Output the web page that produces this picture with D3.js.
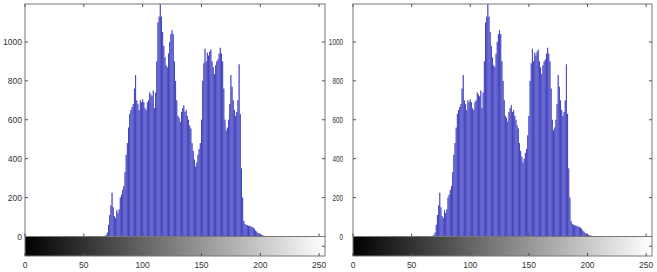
<!DOCTYPE html>
<html><head><meta charset="utf-8">
<script src="https://cdn.jsdelivr.net/npm/d3@7"></script>
<style>body{margin:0;background:#fff}svg{display:block}</style>
</head><body>
<script>
// ---- data ----
const firstBin = 68;
const countsLeft = [3,8,20,60,110,160,225,150,105,95,135,120,140,200,215,240,260,330,420,480,560,630,650,665,680,760,830,700,680,650,700,690,705,690,660,650,690,700,740,730,720,750,660,740,900,1100,1130,1195,1130,1050,980,920,880,870,940,1000,1040,1060,1040,900,800,700,620,610,590,640,660,675,640,650,620,600,570,555,480,440,395,360,380,420,450,480,600,800,890,965,900,945,930,950,960,900,870,835,880,900,910,940,970,940,900,760,600,545,560,600,680,830,770,700,650,620,640,700,885,630,350,200,80,65,60,58,55,55,50,50,45,40,30,25,18,15,10,8,6,4,3,2,2,1];
const countsRight = [3,8,20,60,110,160,225,150,105,95,135,120,140,200,215,240,260,330,420,480,560,630,650,665,680,760,830,700,680,650,700,690,705,690,660,650,690,700,740,730,720,750,660,740,900,1100,1130,1195,1130,1050,980,920,880,870,940,1000,1040,1060,1040,900,800,700,620,610,590,640,660,675,640,650,620,600,570,555,480,440,410,380,400,430,450,520,620,800,890,965,900,945,930,950,960,900,870,835,880,900,910,940,970,940,900,760,600,545,560,600,680,830,770,700,650,620,640,700,885,630,350,200,80,65,60,58,55,55,50,50,45,40,30,25,18,15,10,8,6,4,3,2,2,1];
const xTicks = [0,50,100,150,200,250];
const yTicks = [0,200,400,600,800,1000];
const yMax = 1195;

const W = 657, H = 272;
const svg = d3.select("body").append("svg").attr("width", W).attr("height", H);

const panels = [
  {x0: 25, x1: 325, counts: countsLeft, labelGap: 3, labelScale: 1},
  {x0: 353, x1: 652, counts: countsRight, labelGap: 10, labelScale: 0.75}
];
const plotTop = 4, zero = 236.5, cbBottom = 256;

const grad = svg.append("defs").append("linearGradient").attr("id", "gray").attr("x1", 0).attr("x2", 1).attr("y1", 0).attr("y2", 0);
grad.append("stop").attr("offset", 0).attr("stop-color", "#000");
grad.append("stop").attr("offset", 1).attr("stop-color", "#fff");

panels.forEach(p => {
  const x = d3.scaleLinear().domain([0, 255]).range([p.x0, p.x1]);
  const y = d3.scaleLinear().domain([0, yMax]).range([zero, plotTop]);
  const g = svg.append("g");
  const bw = x(1) - x(0);
  const bins = p.counts.map((v, i) => ({b: firstBin + i, v}));

  // bars
  g.selectAll("rect.bar").data(bins).enter().append("rect")
    .attr("x", d => x(d.b) - bw * 0.42).attr("width", bw * 0.84)
    .attr("y", d => y(d.v)).attr("height", d => zero - y(d.v))
    .attr("fill", "#6a6ae0");
  g.selectAll("line.stem").data(bins).enter().append("line")
    .attr("x1", d => x(d.b)).attr("x2", d => x(d.b))
    .attr("y1", zero).attr("y2", d => y(d.v))
    .attr("stroke", "#2626a8").attr("stroke-width", 0.6);

  // frame
  g.append("rect").attr("x", p.x0).attr("y", plotTop).attr("width", p.x1 - p.x0).attr("height", zero - plotTop)
    .attr("fill", "none").attr("stroke", "#777").attr("stroke-width", 1);

  // ticks
  xTicks.forEach(t => {
    g.append("line").attr("x1", x(t)).attr("x2", x(t)).attr("y1", zero).attr("y2", zero - 3).attr("stroke", "#555");
    g.append("line").attr("x1", x(t)).attr("x2", x(t)).attr("y1", plotTop).attr("y2", plotTop + 3).attr("stroke", "#555");
  });
  yTicks.forEach(t => {
    g.append("line").attr("x1", p.x0).attr("x2", p.x0 + 3).attr("y1", y(t)).attr("y2", y(t)).attr("stroke", "#555");
    g.append("line").attr("x1", p.x1).attr("x2", p.x1 - 3).attr("y1", y(t)).attr("y2", y(t)).attr("stroke", "#555");
  });

  // y labels
  yTicks.forEach(t => {
    const lx = p.x0 - p.labelGap;
    g.append("text").attr("transform", `translate(${lx},${y(t) + 3}) scale(${p.labelScale},1)`)
      .attr("text-anchor", "end").attr("font-family", "Liberation Sans, Arial, sans-serif")
      .attr("font-size", 8.5).attr("fill", "#333").text(t);
  });

  // colorbar
  g.append("rect").attr("x", p.x0).attr("y", zero).attr("width", p.x1 - p.x0).attr("height", cbBottom - zero)
    .attr("fill", "url(#gray)").attr("stroke", "#777").attr("stroke-width", 1);
  xTicks.forEach(t => {
    g.append("line").attr("x1", x(t)).attr("x2", x(t)).attr("y1", cbBottom).attr("y2", cbBottom - 3).attr("stroke", "#555");
  });
  g.append("line").attr("x1", p.x1).attr("x2", p.x1 - 3).attr("y1", (zero + cbBottom) / 2).attr("y2", (zero + cbBottom) / 2).attr("stroke", "#555");

  // x labels
  xTicks.forEach(t => {
    g.append("text").attr("x", x(t)).attr("y", 268).attr("text-anchor", "middle")
      .attr("font-family", "Liberation Sans, Arial, sans-serif").attr("font-size", 8.5).attr("fill", "#333").text(t);
  });
});
</script>
</body></html>
